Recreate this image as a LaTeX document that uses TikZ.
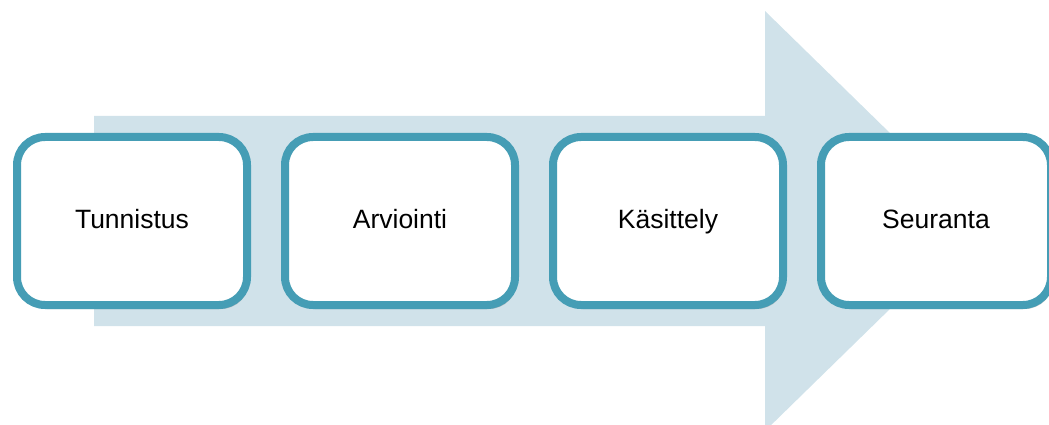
\documentclass[tikz,border=0pt]{standalone}
\usepackage{fontspec}
\setmainfont{Liberation Sans}
\usepackage{tikz}
\usetikzlibrary{positioning,shadows}
\definecolor{flowTeal}{RGB}{69,157,181}
\definecolor{flowPale}{RGB}{208,226,234}
\tikzset{
    base/.style={font=\fontsize{26.5}{32}\selectfont, align=center, text=black},
    stage/.style={base, rectangle, rounded corners=28pt, draw=flowTeal, line width=8pt,
                  fill=white, minimum width=230pt, minimum height=168pt, inner sep=0pt,
                  text height=20pt, text depth=6pt,
                  drop shadow={opacity=0.4, shadow xshift=2pt, shadow yshift=-4pt}},
    band/.style={fill=flowPale, draw=none}
}

\begin{document}
\begin{tikzpicture}[x=1pt, y=-1pt]
  \useasboundingbox (0,0) rectangle (1049,425);
  \clip (0,0) rectangle (1049,425);

  % Background arrow
  \fill[band] (94,116) -- (765,116) -- (765,11) -- (980,221)
              -- (765,431) -- (765,326) -- (94,326) -- cycle;

  % Stages
  \node[stage] (tunnistus) at (132,221) {Tunnistus};
  \node[stage, right=30pt of tunnistus] (arviointi) {Arviointi};
  \node[stage, right=30pt of arviointi] (kasittely) {Käsittely};
  \node[stage, right=30pt of kasittely] (seuranta) {Seuranta};
\end{tikzpicture}
\end{document}
